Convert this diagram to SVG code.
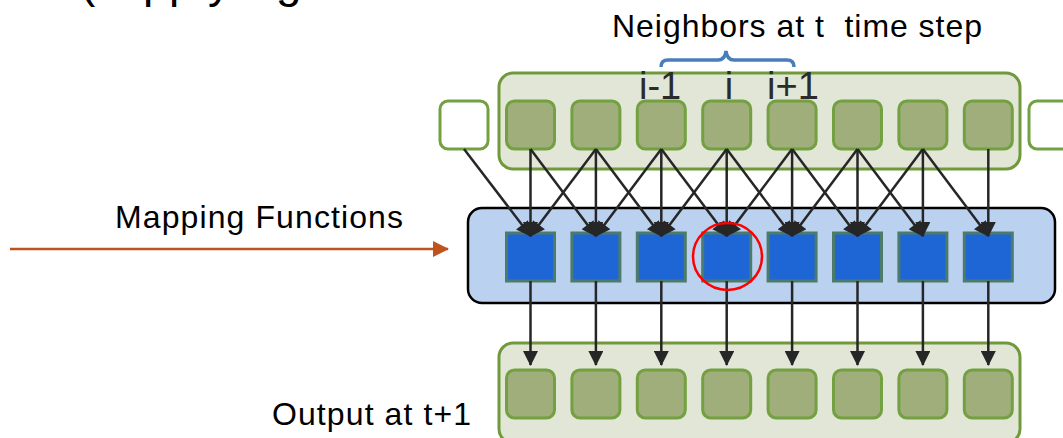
<svg xmlns="http://www.w3.org/2000/svg" width="1063" height="438" viewBox="0 0 1063 438">
<style>
.t{font-family:"Liberation Sans",Arial,sans-serif;fill:#000}
.cont{fill:#e2e6d7;stroke:#70993c;stroke-width:3}
.g{fill:#9fae7b;stroke:#73a040;stroke-width:3}
.w{fill:#fff;stroke:#73a040;stroke-width:3}
.b{fill:#1e66d6;stroke:#4d7b6a;stroke-width:3}
.c line{stroke:#262626;stroke-width:2.5;marker-end:url(#ah)}
.lbl{font-family:"Liberation Sans",Arial,sans-serif;fill:#2b2b2b;font-size:38px}
</style>
<defs>
<marker id="ah" viewBox="0 0 15 15" refX="14" refY="7.5" markerWidth="16" markerHeight="15" markerUnits="userSpaceOnUse" orient="auto">
<path d="M0,0 L15,7.5 L0,15 z" fill="#262626"/>
</marker>
<marker id="oh" viewBox="0 0 16 16" refX="15" refY="8" markerWidth="16" markerHeight="16" markerUnits="userSpaceOnUse" orient="auto">
<path d="M0,0 L16,8 L0,16 z" fill="#c0521e"/>
</marker>
</defs>
<rect width="1063" height="438" fill="#fff"/>
<text class="t" font-size="46" y="-3"><tspan x="80">(</tspan><tspan x="110">a</tspan><tspan x="143">p</tspan><tspan x="169">p</tspan><tspan x="195">l</tspan><tspan x="208">y</tspan><tspan x="232">i</tspan><tspan x="245">n</tspan><tspan x="276">g</tspan></text>
<g id="title"><text class="t" x="612" y="37" font-size="32" textLength="370" xml:space="preserve" style="white-space:pre">Neighbors at t  time step</text>
<path d="M661,67 Q661,60 668,60 L718,60 Q725,60 726,51 Q727,60 734,60 L787,60 Q794,60 794,67" fill="none" stroke="#4a7ebb" stroke-width="3.5"/></g>
<g id="input-layer">
<rect class="cont" x="499" y="73" width="521" height="96" rx="14"/>
<text class="lbl" x="639" y="99">i-1</text>
<text class="lbl" x="729" y="99" text-anchor="middle">i</text>
<text class="lbl" x="767" y="99">i+1</text>
<rect class="w" x="440" y="101" width="48" height="48" rx="8"/>
<rect class="w" x="1029" y="101" width="48" height="48" rx="8"/>
<rect class="g" x="506.5" y="101" width="48" height="48" rx="8"/>
<rect class="g" x="571.9" y="101" width="48" height="48" rx="8"/>
<rect class="g" x="637.3" y="101" width="48" height="48" rx="8"/>
<rect class="g" x="702.7" y="101" width="48" height="48" rx="8"/>
<rect class="g" x="768.1" y="101" width="48" height="48" rx="8"/>
<rect class="g" x="833.5" y="101" width="48" height="48" rx="8"/>
<rect class="g" x="898.9" y="101" width="48" height="48" rx="8"/>
<rect class="g" x="964.3" y="101" width="48" height="48" rx="8"/>
</g>
<g id="mapping-layer">
<rect x="468" y="208" width="587" height="95" rx="14" fill="#bbd1f0" stroke="#000" stroke-width="2.5"/>
<rect class="b" x="506.5" y="233" width="48" height="48"/>
<rect class="b" x="571.9" y="233" width="48" height="48"/>
<rect class="b" x="637.3" y="233" width="48" height="48"/>
<rect class="b" x="702.7" y="233" width="48" height="48"/>
<rect class="b" x="768.1" y="233" width="48" height="48"/>
<rect class="b" x="833.5" y="233" width="48" height="48"/>
<rect class="b" x="898.9" y="233" width="48" height="48"/>
<rect class="b" x="964.3" y="233" width="48" height="48"/>
</g>
<g id="output-layer">
<rect class="cont" x="499" y="343" width="521" height="100" rx="14"/>
<rect class="g" x="506.5" y="370" width="48" height="48" rx="8"/>
<rect class="g" x="571.9" y="370" width="48" height="48" rx="8"/>
<rect class="g" x="637.3" y="370" width="48" height="48" rx="8"/>
<rect class="g" x="702.7" y="370" width="48" height="48" rx="8"/>
<rect class="g" x="768.1" y="370" width="48" height="48" rx="8"/>
<rect class="g" x="833.5" y="370" width="48" height="48" rx="8"/>
<rect class="g" x="898.9" y="370" width="48" height="48" rx="8"/>
<rect class="g" x="964.3" y="370" width="48" height="48" rx="8"/>
</g>
<g id="connectors" class="c">
<line x1="464" y1="149" x2="530.5" y2="236"/>
<line x1="530.5" y1="149" x2="530.5" y2="236"/>
<line x1="530.5" y1="149" x2="595.9" y2="236"/>
<line x1="595.9" y1="149" x2="530.5" y2="236"/>
<line x1="595.9" y1="149" x2="595.9" y2="236"/>
<line x1="595.9" y1="149" x2="661.3" y2="236"/>
<line x1="661.3" y1="149" x2="595.9" y2="236"/>
<line x1="661.3" y1="149" x2="661.3" y2="236"/>
<line x1="661.3" y1="149" x2="726.7" y2="236"/>
<line x1="726.7" y1="149" x2="661.3" y2="236"/>
<line x1="726.7" y1="149" x2="726.7" y2="236"/>
<line x1="726.7" y1="149" x2="792.1" y2="236"/>
<line x1="792.1" y1="149" x2="726.7" y2="236"/>
<line x1="792.1" y1="149" x2="792.1" y2="236"/>
<line x1="792.1" y1="149" x2="857.5" y2="236"/>
<line x1="857.5" y1="149" x2="792.1" y2="236"/>
<line x1="857.5" y1="149" x2="857.5" y2="236"/>
<line x1="857.5" y1="149" x2="922.9" y2="236"/>
<line x1="922.9" y1="149" x2="857.5" y2="236"/>
<line x1="922.9" y1="149" x2="922.9" y2="236"/>
<line x1="922.9" y1="149" x2="988.3" y2="236"/>
<line x1="988.3" y1="149" x2="988.3" y2="236"/>
<line x1="530.5" y1="281" x2="530.5" y2="365"/>
<line x1="595.9" y1="281" x2="595.9" y2="365"/>
<line x1="661.3" y1="281" x2="661.3" y2="365"/>
<line x1="726.7" y1="281" x2="726.7" y2="365"/>
<line x1="792.1" y1="281" x2="792.1" y2="365"/>
<line x1="857.5" y1="281" x2="857.5" y2="365"/>
<line x1="922.9" y1="281" x2="922.9" y2="365"/>
<line x1="988.3" y1="281" x2="988.3" y2="365"/>
</g>
<ellipse cx="727.5" cy="256.5" rx="34.5" ry="33.5" fill="none" stroke="#ff0000" stroke-width="2.5"/>
<g id="mapping-label">
<text class="t" x="115" y="228" font-size="32" textLength="288">Mapping Functions</text>
<line x1="10" y1="249" x2="448" y2="249" stroke="#c0521e" stroke-width="2.5" marker-end="url(#oh)"/>
</g>
<g id="output-label"><text class="t" x="272" y="425" font-size="32" textLength="199">Output at t+1</text></g>
</svg>
